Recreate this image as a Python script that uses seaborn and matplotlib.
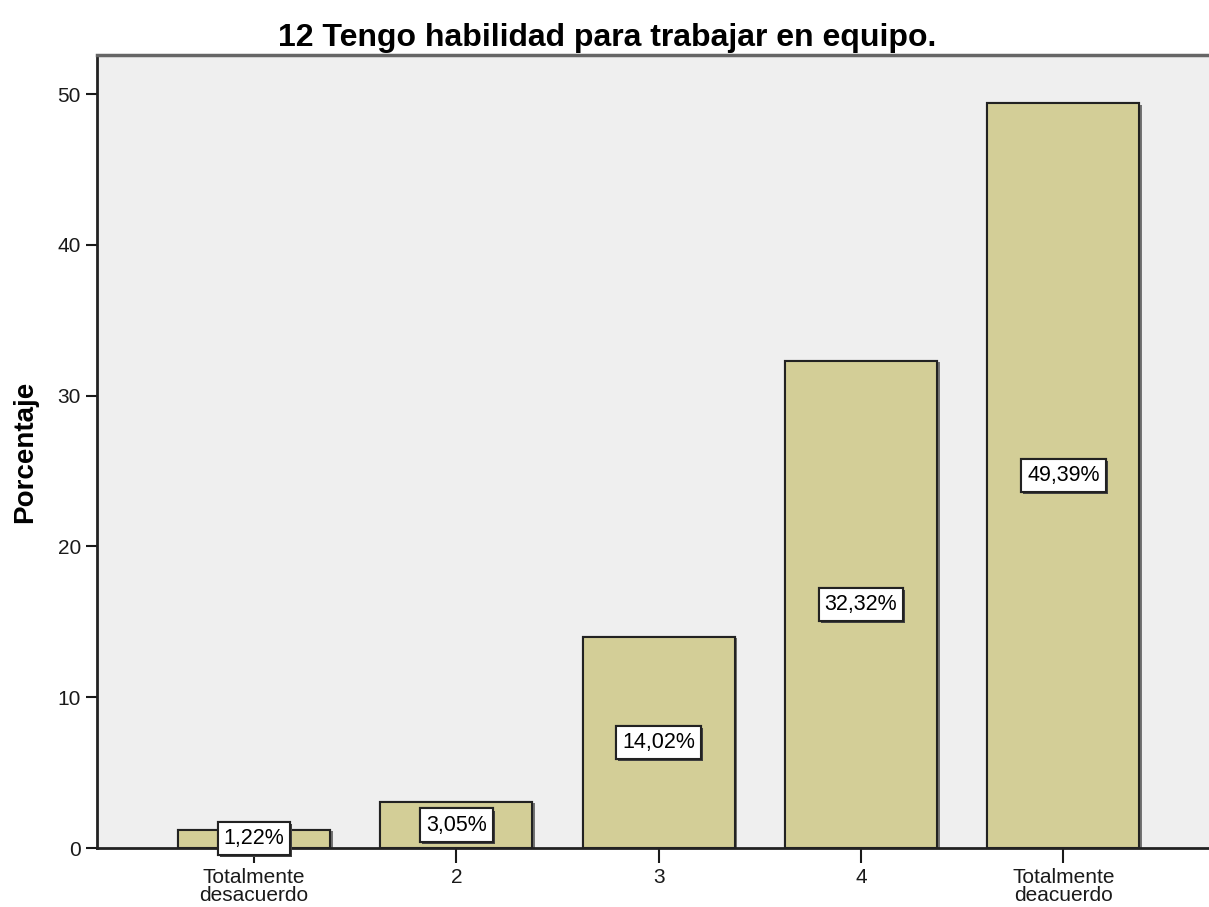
import matplotlib
matplotlib.use('Agg')
import matplotlib.pyplot as plt
import matplotlib.patheffects as pe
import pandas as pd
import seaborn as sns

categorias = ['Totalmente\ndesacuerdo', '2', '3', '4', 'Totalmente\ndeacuerdo']
porcentajes = [1.22, 3.05, 14.02, 32.32, 49.39]
etiquetas = ['1,22%', '3,05%', '14,02%', '32,32%', '49,39%']
titulo = '12 Tengo habilidad para trabajar en equipo.'


def main() -> None:
    df = pd.DataFrame({'categoria': categorias, 'porcentaje': porcentajes})

    sns.set_style('white')
    plt.rcParams['font.family'] = ['Liberation Sans', 'DejaVu Sans']
    plt.rcParams['text.color'] = 'black'
    plt.rcParams['axes.labelcolor'] = 'black'

    fig = plt.figure(figsize=(12.09, 9.07), dpi=100)
    ax = fig.add_axes([97 / 1209, 1 - 848 / 907, 1112 / 1209, 793 / 907])
    ax.set_facecolor('#efefef')

    sns.barplot(data=df, x='categoria', y='porcentaje', order=categorias, color='#d3ce97',
                saturation=1, width=0.75, edgecolor='#222222', linewidth=1.5, ax=ax)
    for bar in ax.patches:
        bar.set_path_effects([pe.withSimplePatchShadow(offset=(2, -1), shadow_rgbFace='#555555', alpha=0.8),
                              pe.Normal()])

    # etiquetas de porcentaje en cajas blancas a media altura
    for i, (val, lab) in enumerate(zip(porcentajes, etiquetas)):
        t = ax.text(i, val / 2, lab, ha='center', va='center', fontsize=15.5, color='black', zorder=5,
                    bbox=dict(boxstyle='square,pad=0.28', facecolor='white', edgecolor='#222222', linewidth=1.5))
        t.get_bbox_patch().set_path_effects([pe.withSimplePatchShadow(offset=(1.5, -1.5),
                                                                      shadow_rgbFace='#444444', alpha=1),
                                             pe.Normal()])

    ax.set_xlim(-0.776, 4.72)
    ax.set_ylim(0, 52.59)
    ax.set_yticks([0, 10, 20, 30, 40, 50])
    ax.tick_params(axis='y', direction='out', length=8, width=1.5, labelsize=15, colors='#1a1a1a', left=True)
    ax.tick_params(axis='x', direction='out', length=11, width=1.5, labelsize=15, colors='#1a1a1a', bottom=True)
    for lbl in ax.get_xticklabels():
        lbl.set_linespacing(0.9)

    ax.set_xlabel('')
    ax.set_ylabel('Porcentaje', fontsize=20, fontweight='bold', labelpad=14, color='black')

    for side in ['left', 'bottom']:
        ax.spines[side].set_color('#222222')
        ax.spines[side].set_linewidth(2)
    ax.spines['top'].set_color('#666666')
    ax.spines['top'].set_linewidth(2.5)
    ax.spines['right'].set_visible(False)

    fig.text(607 / 1209, 1 - 38 / 907, titulo, ha='center', va='center', fontsize=23, fontweight='bold',
             color='black')

    fig.savefig('out.png', dpi=100)


if __name__ == '__main__':
    main()
